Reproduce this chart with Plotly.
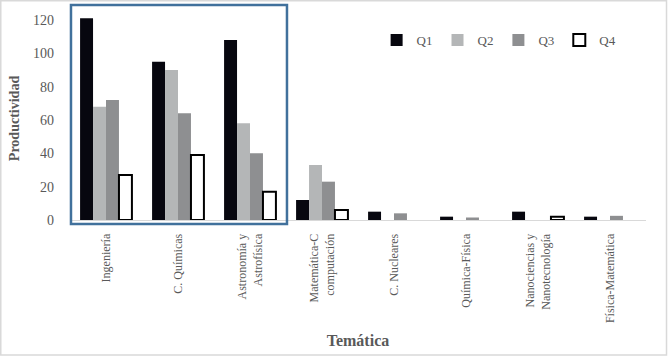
import plotly.graph_objects as go

categories = ["Ingeniería", "C. Químicas", "Astronomía y<br>Astrofísica",
              "Matemática-C<br>computación", "C. Nucleares", "Química-Física",
              "Nanociencias y<br>Nanotecnología", "Física-Matemática"]
q1 = [121, 95, 108, 12, 5, 2, 5, 2]
q2 = [68, 90, 58, 33, None, None, None, None]
q3 = [72, 64, 40, 23, 4, 1.5, None, 2.5]
q4 = [27, 39, 17, 6, None, None, 2, None]
y_ticks = [0, 20, 40, 60, 80, 100, 120]

FONT = "Liberation Serif"
TXT = "#595959"

fig = go.Figure()
fig.add_trace(go.Bar(name="Q1", x=categories, y=q1,
                     marker=dict(color="#07070f", line=dict(width=0))))
fig.add_trace(go.Bar(name="Q2", x=categories, y=q2,
                     marker=dict(color="#b4b6b7", line=dict(width=0))))
fig.add_trace(go.Bar(name="Q3", x=categories, y=q3,
                     marker=dict(color="#8e8f91", line=dict(width=0))))
fig.add_trace(go.Bar(name="Q4", x=categories, y=q4,
                     marker=dict(color="#ffffff", line=dict(width=2, color="#000000"))))

fig.update_layout(
    width=668, height=357,
    margin=dict(l=70, r=22, t=17, b=137),
    paper_bgcolor="white", plot_bgcolor="white",
    barmode="group", bargap=0.28, bargroupgap=0,
    font=dict(family=FONT, color=TXT, size=13),
    legend=dict(orientation="h", x=0.745, xanchor="center", y=0.887, yanchor="middle",
                font=dict(family=FONT, size=13, color=TXT), itemwidth=30,
                bgcolor="rgba(0,0,0,0)"),
    xaxis=dict(tickangle=-90, tickfont=dict(family=FONT, size=12, color=TXT),
               showline=True, linecolor="#d9d9d9", linewidth=1, ticks="",
               showgrid=False, ticklabelstandoff=8, automargin=False,
               title=dict(text="<b>Temática</b>", font=dict(family=FONT, size=16, color=TXT),
                          standoff=12)),
    yaxis=dict(range=[0, 121.8], tickvals=y_ticks, showgrid=False, zeroline=False,
               showline=False, ticks="", ticklabelstandoff=15, automargin=False,
               tickfont=dict(family=FONT, size=14, color=TXT),
               title=dict(text="<b>Productividad</b>", font=dict(family=FONT, size=14, color=TXT),
                          standoff=10)),
    shapes=[
        dict(type="rect", xref="paper", yref="paper", x0=0.0017, x1=0.3767,
             y0=-0.0197, y1=1.059, line=dict(color="#41719c", width=2.5),
             fillcolor="rgba(0,0,0,0)"),
        dict(type="rect", xref="paper", yref="paper", x0=-0.1202, x1=1.0356,
             y0=-0.665, y1=1.08, line=dict(color="#d9d9d9", width=1.5),
             fillcolor="rgba(0,0,0,0)"),
    ],
)

fig.write_html("out.html", config={"displayModeBar": False},
               post_script="document.body.style.margin='0';document.body.style.padding='0';")
